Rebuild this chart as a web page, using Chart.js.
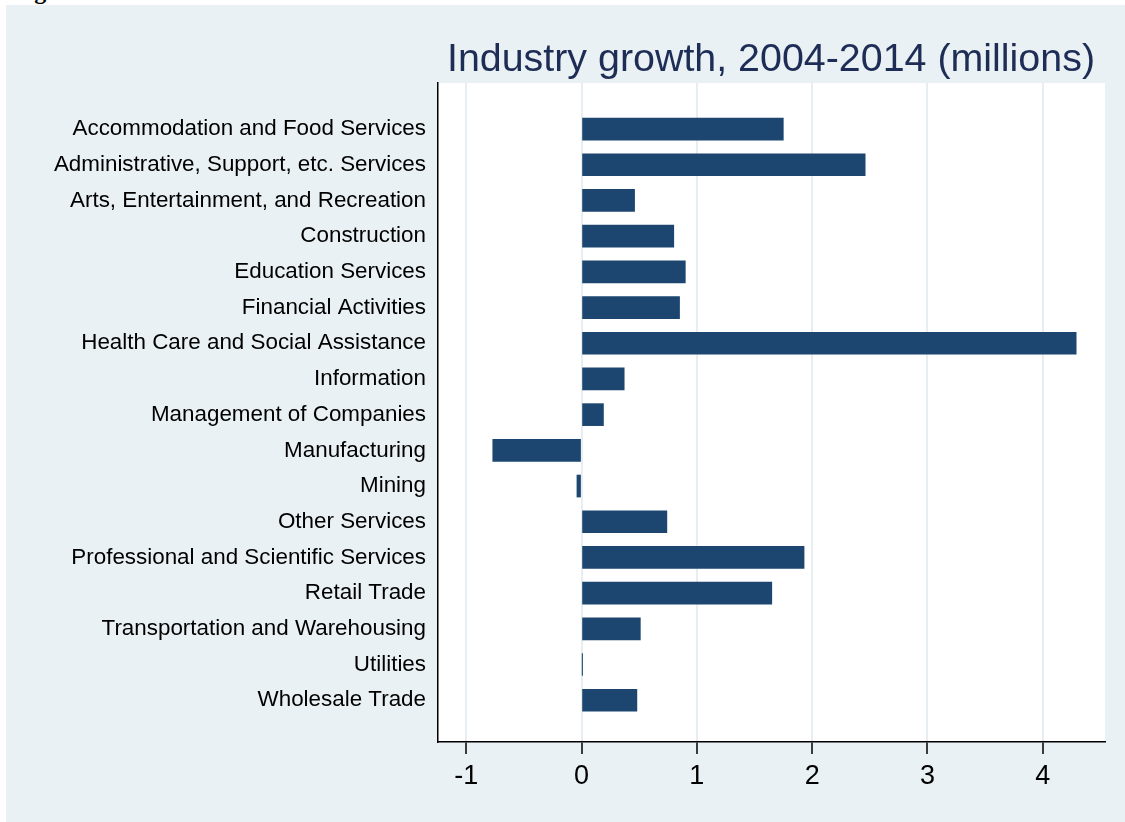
<!DOCTYPE html>
<html>
<head>
<meta charset="utf-8">
<script src="https://cdn.jsdelivr.net/npm/chart.js@4.4.1/dist/chart.umd.min.js"></script>
<style>
	body { margin: 0; background: #ffffff; width: 1125px; height: 822px; overflow: hidden; position: relative; }
	#fig { position: absolute; left: 13px; top: -21px; font: bold 24px 'Liberation Serif', serif; line-height: 24px; color: #000; }
	#chart { position: absolute; left: 6px; top: 5px; }
</style>
</head>
<body>
<span id="fig">Fig</span>
<canvas id="chart" width="1119" height="817"></canvas>
<script>
'use strict';

const industries = [
	'Accommodation and Food Services',
	'Administrative, Support, etc. Services',
	'Arts, Entertainment, and Recreation',
	'Construction',
	'Education Services',
	'Financial Activities',
	'Health Care and Social Assistance',
	'Information',
	'Management of Companies',
	'Manufacturing',
	'Mining',
	'Other Services',
	'Professional and Scientific Services',
	'Retail Trade',
	'Transportation and Warehousing',
	'Utilities',
	'Wholesale Trade'
];

// change in jobs, millions
const growth = [1.75, 2.46, 0.46, 0.80, 0.90, 0.85, 4.29, 0.37, 0.19, -0.77, -0.04, 0.74, 1.93, 1.65, 0.51, 0.005, 0.48];

const xTicks = [-1, 0, 1, 2, 3, 4];

const titleText = 'Industry growth, 2004-2014 (millions)';

const bgColor = '#eaf1f4';
const barColor = '#1c4670';

const backdrop = {
	id: 'backdrop',
	beforeDraw: function (chart) {
		const ctx = chart.ctx;
		const area = chart.chartArea;
		ctx.save();
		ctx.fillStyle = bgColor;
		ctx.fillRect(0, 0, chart.width, chart.height);
		ctx.fillStyle = '#ffffff';
		ctx.fillRect(area.left, area.top, area.right - area.left, area.bottom - area.top);
		ctx.restore();
	},
	afterDraw: function (chart) {
		const ctx = chart.ctx;
		ctx.save();
		ctx.fillStyle = '#1e2d55';
		ctx.font = "39.4px 'Liberation Sans', Arial, sans-serif";
		ctx.textAlign = 'right';
		ctx.textBaseline = 'middle';
		ctx.fillText(titleText, chart.chartArea.right - 10, 55);
		ctx.restore();
	}
};

const graph = new Chart(document.getElementById('chart'), {
	type: 'bar',
	data: {
		datasets: [{
			data: growth.map((v, i) => ({ x: v, y: i })),
			backgroundColor: barColor,
			borderWidth: 0,
			barThickness: 22
		}]
	},
	options: {
		indexAxis: 'y',
		responsive: false,
		animation: false,
		layout: { padding: { left: 0, right: 20, top: 78, bottom: 0 } },
		plugins: {
			legend: { display: false },
			tooltip: { enabled: false }
		},
		scales: {
			x: {
				type: 'linear',
				min: -1.245,
				max: 4.54,
				afterBuildTicks: (axis) => { axis.ticks = xTicks.map(v => ({ value: v })); },
				afterFit: (axis) => { axis.height = 80; },
				grid: {
					color: '#e6eef1',
					lineWidth: 2,
					tickColor: '#000000',
					tickLength: 12,
					tickWidth: 1.5
				},
				border: { color: '#000000', width: 1.5 },
				ticks: {
					color: '#000000',
					padding: 6,
					maxRotation: 0,
					font: { family: "'Liberation Sans', Arial, sans-serif", size: 27 }
				}
			},
			y: {
				type: 'linear',
				reverse: true,
				offset: false,
				min: -1.29,
				max: 17.17,
				afterBuildTicks: (axis) => { axis.ticks = industries.map((l, i) => ({ value: i })); },
				afterFit: (axis) => { axis.width = 432; },
				grid: { offset: false, drawOnChartArea: false, drawTicks: false, color: 'rgba(0,0,0,0)' },
				border: { color: '#000000', width: 1.5 },
				ticks: {
					color: '#000000',
					padding: 12,
					autoSkip: false,
					callback: (value) => industries[value],
					font: { family: "'Liberation Sans', Arial, sans-serif", size: 22.4 }
				}
			}
		}
	},
	plugins: [backdrop]
});
</script>
</body>
</html>
